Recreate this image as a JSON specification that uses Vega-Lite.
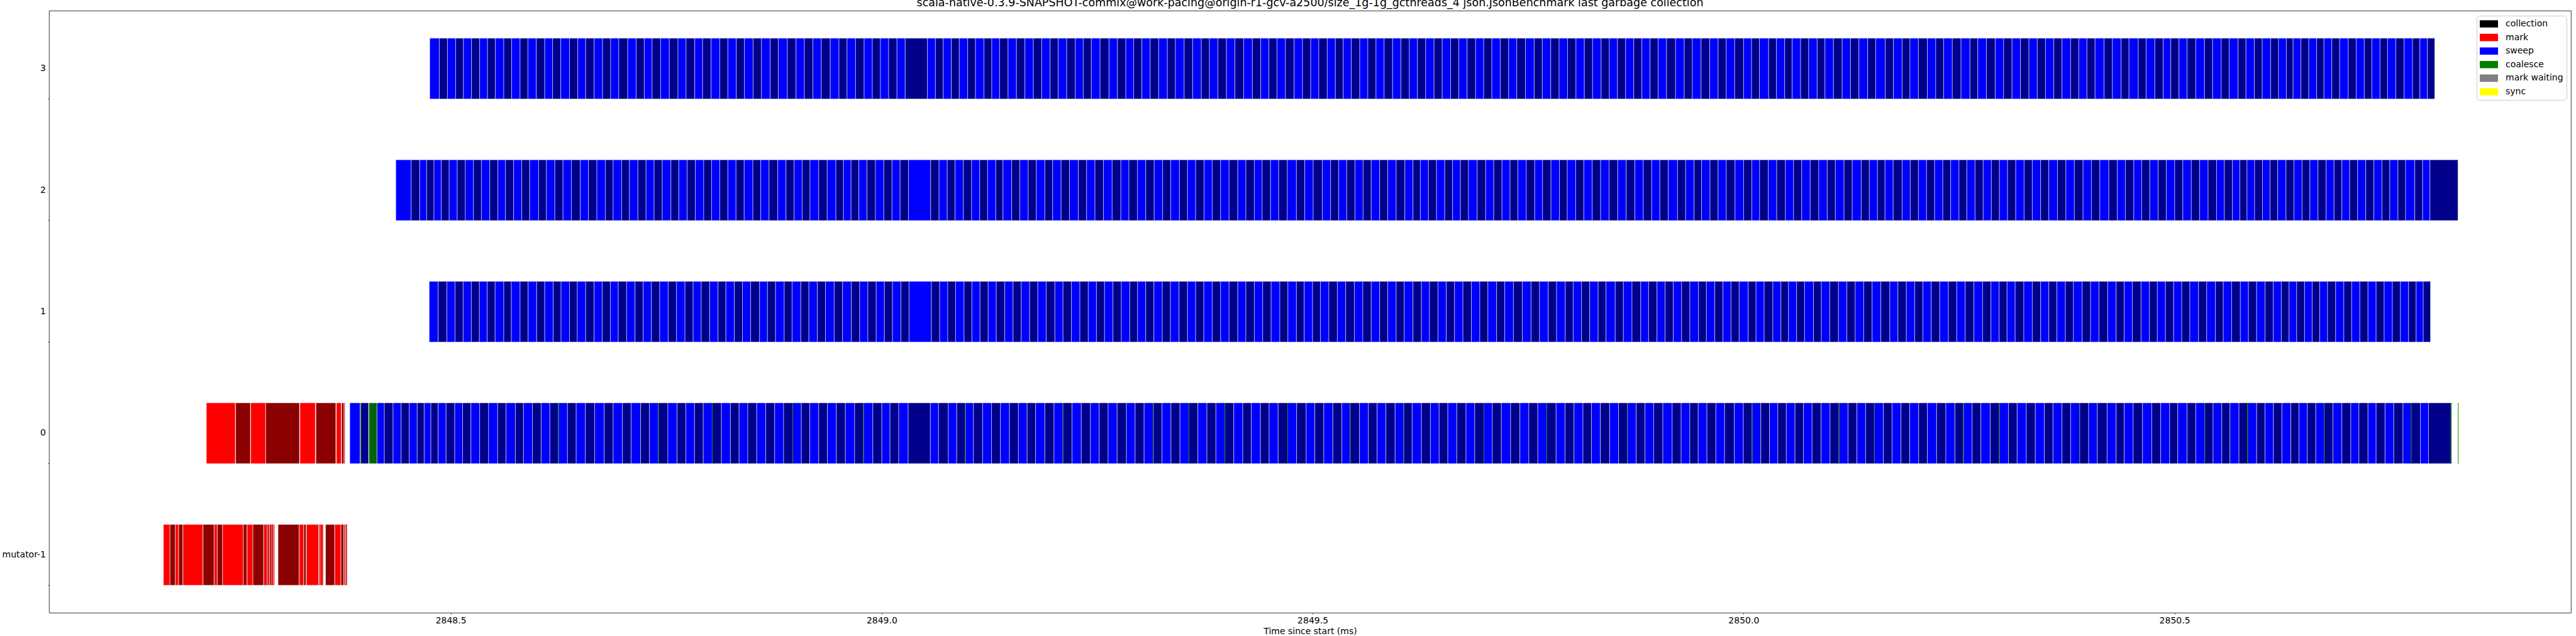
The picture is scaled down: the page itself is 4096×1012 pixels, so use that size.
{
"$schema":"https://vega.github.io/schema/vega-lite/v6.json",
"width":4010,"height":958,
"autosize":{"type":"none"},
"padding":{"left":78,"top":17,"right":8,"bottom":37},
"background":"white",
"config":{"view":{"stroke":"black","strokeWidth":0.8},"font":"DejaVu Sans"},
"title":{"text":"scala-native-0.3.9-SNAPSHOT-commix@work-pacing@origin-r1-gcv-a2500/size_1g-1g_gcthreads_4 json.JsonBenchmark last garbage collection","fontSize":17.5,"fontWeight":"normal","font":"DejaVu Sans","color":"black","anchor":"middle","frame":"group","baseline":"alphabetic","offset":-10},
"data":{"values":[
{"t":"mutator-1","s":2848.1667,"e":2848.1742,"k":"mark"},
{"t":"mutator-1","s":2848.1743,"e":2848.1805,"k":"mark2"},
{"t":"mutator-1","s":2848.1806,"e":2848.1842,"k":"mark"},
{"t":"mutator-1","s":2848.1844,"e":2848.1892,"k":"mark2"},
{"t":"mutator-1","s":2848.1894,"e":2848.2125,"k":"mark"},
{"t":"mutator-1","s":2848.2127,"e":2848.2254,"k":"mark2"},
{"t":"mutator-1","s":2848.2256,"e":2848.2290,"k":"mark"},
{"t":"mutator-1","s":2848.2292,"e":2848.2353,"k":"mark2"},
{"t":"mutator-1","s":2848.2354,"e":2848.2594,"k":"mark"},
{"t":"mutator-1","s":2848.2595,"e":2848.2636,"k":"mark2"},
{"t":"mutator-1","s":2848.2638,"e":2848.2704,"k":"mark"},
{"t":"mutator-1","s":2848.2705,"e":2848.2829,"k":"mark2"},
{"t":"mutator-1","s":2848.2831,"e":2848.2864,"k":"mark"},
{"t":"mutator-1","s":2848.2865,"e":2848.2875,"k":"mark2"},
{"t":"mutator-1","s":2848.2876,"e":2848.2898,"k":"mark"},
{"t":"mutator-1","s":2848.2900,"e":2848.2918,"k":"mark2"},
{"t":"mutator-1","s":2848.2920,"e":2848.2931,"k":"mark"},
{"t":"mutator-1","s":2848.2932,"e":2848.2940,"k":"mark2"},
{"t":"mutator-1","s":2848.2942,"e":2848.2956,"k":"mark"},
{"t":"mutator-1","s":2848.2997,"e":2848.3241,"k":"mark2"},
{"t":"mutator-1","s":2848.3243,"e":2848.3294,"k":"mark"},
{"t":"mutator-1","s":2848.3296,"e":2848.3321,"k":"mark2"},
{"t":"mutator-1","s":2848.3326,"e":2848.3467,"k":"mark"},
{"t":"mutator-1","s":2848.3473,"e":2848.3482,"k":"mark2"},
{"t":"mutator-1","s":2848.3484,"e":2848.3514,"k":"mark"},
{"t":"mutator-1","s":2848.3515,"e":2848.3520,"k":"mark2"},
{"t":"mutator-1","s":2848.3548,"e":2848.3653,"k":"mark2"},
{"t":"mutator-1","s":2848.3655,"e":2848.3725,"k":"mark"},
{"t":"mutator-1","s":2848.3727,"e":2848.3757,"k":"mark2"},
{"t":"mutator-1","s":2848.3758,"e":2848.3774,"k":"mark"},
{"t":"mutator-1","s":2848.3780,"e":2848.3789,"k":"mark2"},
{"t":"mutator-1","s":2848.3791,"e":2848.3797,"k":"mark"},
{"t":"0","s":2848.2165,"e":2848.2500,"k":"mark"},
{"t":"0","s":2848.2505,"e":2848.2675,"k":"mark2"},
{"t":"0","s":2848.2680,"e":2848.2852,"k":"mark"},
{"t":"0","s":2848.2854,"e":2848.3245,"k":"mark2"},
{"t":"0","s":2848.3251,"e":2848.3429,"k":"mark"},
{"t":"0","s":2848.3436,"e":2848.3667,"k":"mark2"},
{"t":"0","s":2848.3674,"e":2848.3730,"k":"mark"},
{"t":"0","s":2848.3735,"e":2848.3759,"k":"mark2"},
{"t":"0","s":2848.3760,"e":2848.3765,"k":"mark"},
{"t":"0","s":2848.3767,"e":2848.3772,"k":"mark2"},
{"t":"0","s":2848.3829,"e":2848.3946,"k":"sweep"},
{"t":"0","s":2848.3947,"e":2848.3956,"k":"coalesce2"},
{"t":"0","s":2848.3957,"e":2848.4047,"k":"sweep2"},
{"t":"0","s":2848.4052,"e":2848.4145,"k":"coalesce2"},
{"t":"0","s":2848.4145,"e":2848.4230,"k":"sweep"},
{"t":"0","s":2848.4230,"e":2848.4331,"k":"sweep2"},
{"t":"0","s":2848.4331,"e":2848.4425,"k":"sweep"},
{"t":"0","s":2848.4425,"e":2848.4520,"k":"sweep2"},
{"t":"0","s":2848.4520,"e":2848.4611,"k":"sweep"},
{"t":"0","s":2848.4611,"e":2848.4692,"k":"sweep2"},
{"t":"0","s":2848.4692,"e":2848.4770,"k":"sweep"},
{"t":"0","s":2848.4770,"e":2848.4855,"k":"sweep2"},
{"t":"0","s":2848.4855,"e":2848.4946,"k":"sweep"},
{"t":"0","s":2848.4946,"e":2848.5047,"k":"sweep2"},
{"t":"0","s":2848.5047,"e":2848.5138,"k":"sweep"},
{"t":"0","s":2848.5138,"e":2848.5235,"k":"sweep2"},
{"t":"0","s":2848.5235,"e":2848.5336,"k":"sweep"},
{"t":"0","s":2848.5336,"e":2848.5440,"k":"sweep2"},
{"t":"0","s":2848.5440,"e":2848.5545,"k":"sweep"},
{"t":"0","s":2848.5545,"e":2848.5642,"k":"sweep2"},
{"t":"0","s":2848.5642,"e":2848.5750,"k":"sweep"},
{"t":"0","s":2848.5750,"e":2848.5844,"k":"sweep2"},
{"t":"0","s":2848.5844,"e":2848.5948,"k":"sweep"},
{"t":"0","s":2848.5948,"e":2848.6049,"k":"sweep2"},
{"t":"0","s":2848.6049,"e":2848.6150,"k":"sweep"},
{"t":"0","s":2848.6150,"e":2848.6251,"k":"sweep2"},
{"t":"0","s":2848.6251,"e":2848.6355,"k":"sweep"},
{"t":"0","s":2848.6355,"e":2848.6456,"k":"sweep2"},
{"t":"0","s":2848.6456,"e":2848.6563,"k":"sweep"},
{"t":"0","s":2848.6563,"e":2848.6670,"k":"sweep2"},
{"t":"0","s":2848.6670,"e":2848.6781,"k":"sweep"},
{"t":"0","s":2848.6781,"e":2848.6885,"k":"sweep2"},
{"t":"0","s":2848.6885,"e":2848.6993,"k":"sweep"},
{"t":"0","s":2848.6993,"e":2848.7093,"k":"sweep2"},
{"t":"0","s":2848.7093,"e":2848.7204,"k":"sweep"},
{"t":"0","s":2848.7204,"e":2848.7305,"k":"sweep2"},
{"t":"0","s":2848.7305,"e":2848.7409,"k":"sweep"},
{"t":"0","s":2848.7409,"e":2848.7520,"k":"sweep2"},
{"t":"0","s":2848.7520,"e":2848.7627,"k":"sweep"},
{"t":"0","s":2848.7627,"e":2848.7728,"k":"sweep2"},
{"t":"0","s":2848.7728,"e":2848.7829,"k":"sweep"},
{"t":"0","s":2848.7829,"e":2848.7930,"k":"sweep2"},
{"t":"0","s":2848.7930,"e":2848.8034,"k":"sweep"},
{"t":"0","s":2848.8034,"e":2848.8141,"k":"sweep2"},
{"t":"0","s":2848.8141,"e":2848.8245,"k":"sweep"},
{"t":"0","s":2848.8245,"e":2848.8346,"k":"sweep2"},
{"t":"0","s":2848.8346,"e":2848.8447,"k":"sweep"},
{"t":"0","s":2848.8447,"e":2848.8551,"k":"sweep2"},
{"t":"0","s":2848.8551,"e":2848.8655,"k":"sweep"},
{"t":"0","s":2848.8655,"e":2848.8759,"k":"sweep2"},
{"t":"0","s":2848.8759,"e":2848.8863,"k":"sweep"},
{"t":"0","s":2848.8863,"e":2848.8968,"k":"sweep2"},
{"t":"0","s":2848.8968,"e":2848.9068,"k":"sweep"},
{"t":"0","s":2848.9068,"e":2848.9166,"k":"sweep2"},
{"t":"0","s":2848.9166,"e":2848.9270,"k":"sweep"},
{"t":"0","s":2848.9270,"e":2848.9371,"k":"sweep2"},
{"t":"0","s":2848.9371,"e":2848.9475,"k":"sweep"},
{"t":"0","s":2848.9475,"e":2848.9579,"k":"sweep2"},
{"t":"0","s":2848.9579,"e":2848.9687,"k":"sweep"},
{"t":"0","s":2848.9687,"e":2848.9791,"k":"sweep2"},
{"t":"0","s":2848.9791,"e":2848.9898,"k":"sweep"},
{"t":"0","s":2848.9898,"e":2849.0002,"k":"sweep2"},
{"t":"0","s":2849.0002,"e":2849.0097,"k":"sweep"},
{"t":"0","s":2849.0097,"e":2849.0198,"k":"sweep2"},
{"t":"0","s":2849.0198,"e":2849.0308,"k":"sweep"},
{"t":"0","s":2849.0308,"e":2849.0565,"k":"sweep2"},
{"t":"0","s":2849.0565,"e":2849.0660,"k":"sweep"},
{"t":"0","s":2849.0660,"e":2849.0774,"k":"sweep2"},
{"t":"0","s":2849.0774,"e":2849.0871,"k":"sweep"},
{"t":"0","s":2849.0871,"e":2849.0972,"k":"sweep2"},
{"t":"0","s":2849.0972,"e":2849.1066,"k":"sweep"},
{"t":"0","s":2849.1066,"e":2849.1171,"k":"sweep2"},
{"t":"0","s":2849.1171,"e":2849.1275,"k":"sweep"},
{"t":"0","s":2849.1275,"e":2849.1379,"k":"sweep2"},
{"t":"0","s":2849.1379,"e":2849.1483,"k":"sweep"},
{"t":"0","s":2849.1483,"e":2849.1587,"k":"sweep2"},
{"t":"0","s":2849.1587,"e":2849.1688,"k":"sweep"},
{"t":"0","s":2849.1688,"e":2849.1786,"k":"sweep2"},
{"t":"0","s":2849.1786,"e":2849.1893,"k":"sweep"},
{"t":"0","s":2849.1893,"e":2849.2000,"k":"sweep2"},
{"t":"0","s":2849.2000,"e":2849.2104,"k":"sweep"},
{"t":"0","s":2849.2104,"e":2849.2209,"k":"sweep2"},
{"t":"0","s":2849.2209,"e":2849.2316,"k":"sweep"},
{"t":"0","s":2849.2316,"e":2849.2423,"k":"sweep2"},
{"t":"0","s":2849.2423,"e":2849.2524,"k":"sweep"},
{"t":"0","s":2849.2524,"e":2849.2628,"k":"sweep2"},
{"t":"0","s":2849.2628,"e":2849.2732,"k":"sweep"},
{"t":"0","s":2849.2732,"e":2849.2840,"k":"sweep2"},
{"t":"0","s":2849.2840,"e":2849.2941,"k":"sweep"},
{"t":"0","s":2849.2941,"e":2849.3045,"k":"sweep2"},
{"t":"0","s":2849.3045,"e":2849.3152,"k":"sweep"},
{"t":"0","s":2849.3152,"e":2849.3253,"k":"sweep2"},
{"t":"0","s":2849.3253,"e":2849.3357,"k":"sweep"},
{"t":"0","s":2849.3357,"e":2849.3461,"k":"sweep2"},
{"t":"0","s":2849.3461,"e":2849.3565,"k":"sweep"},
{"t":"0","s":2849.3565,"e":2849.3669,"k":"sweep2"},
{"t":"0","s":2849.3669,"e":2849.3774,"k":"sweep"},
{"t":"0","s":2849.3774,"e":2849.3878,"k":"sweep2"},
{"t":"0","s":2849.3878,"e":2849.3982,"k":"sweep"},
{"t":"0","s":2849.3982,"e":2849.4086,"k":"sweep2"},
{"t":"0","s":2849.4086,"e":2849.4190,"k":"sweep"},
{"t":"0","s":2849.4190,"e":2849.4288,"k":"sweep2"},
{"t":"0","s":2849.4288,"e":2849.4395,"k":"sweep"},
{"t":"0","s":2849.4395,"e":2849.4496,"k":"sweep2"},
{"t":"0","s":2849.4496,"e":2849.4600,"k":"sweep"},
{"t":"0","s":2849.4600,"e":2849.4711,"k":"sweep2"},
{"t":"0","s":2849.4711,"e":2849.4815,"k":"sweep"},
{"t":"0","s":2849.4815,"e":2849.4926,"k":"sweep2"},
{"t":"0","s":2849.4926,"e":2849.5026,"k":"sweep"},
{"t":"0","s":2849.5026,"e":2849.5130,"k":"sweep2"},
{"t":"0","s":2849.5130,"e":2849.5235,"k":"sweep"},
{"t":"0","s":2849.5235,"e":2849.5339,"k":"sweep2"},
{"t":"0","s":2849.5339,"e":2849.5436,"k":"sweep"},
{"t":"0","s":2849.5436,"e":2849.5544,"k":"sweep2"},
{"t":"0","s":2849.5544,"e":2849.5648,"k":"sweep"},
{"t":"0","s":2849.5648,"e":2849.5749,"k":"sweep2"},
{"t":"0","s":2849.5749,"e":2849.5850,"k":"sweep"},
{"t":"0","s":2849.5850,"e":2849.5957,"k":"sweep2"},
{"t":"0","s":2849.5957,"e":2849.6058,"k":"sweep"},
{"t":"0","s":2849.6058,"e":2849.6155,"k":"sweep2"},
{"t":"0","s":2849.6155,"e":2849.6263,"k":"sweep"},
{"t":"0","s":2849.6263,"e":2849.6367,"k":"sweep2"},
{"t":"0","s":2849.6367,"e":2849.6468,"k":"sweep"},
{"t":"0","s":2849.6468,"e":2849.6569,"k":"sweep2"},
{"t":"0","s":2849.6569,"e":2849.6673,"k":"sweep"},
{"t":"0","s":2849.6673,"e":2849.6780,"k":"sweep2"},
{"t":"0","s":2849.6780,"e":2849.6881,"k":"sweep"},
{"t":"0","s":2849.6881,"e":2849.6988,"k":"sweep2"},
{"t":"0","s":2849.6988,"e":2849.7086,"k":"sweep"},
{"t":"0","s":2849.7086,"e":2849.7190,"k":"sweep2"},
{"t":"0","s":2849.7190,"e":2849.7298,"k":"sweep"},
{"t":"0","s":2849.7298,"e":2849.7405,"k":"sweep2"},
{"t":"0","s":2849.7405,"e":2849.7509,"k":"sweep"},
{"t":"0","s":2849.7509,"e":2849.7613,"k":"sweep2"},
{"t":"0","s":2849.7613,"e":2849.7717,"k":"sweep"},
{"t":"0","s":2849.7717,"e":2849.7825,"k":"sweep2"},
{"t":"0","s":2849.7825,"e":2849.7929,"k":"sweep"},
{"t":"0","s":2849.7929,"e":2849.8033,"k":"sweep2"},
{"t":"0","s":2849.8033,"e":2849.8137,"k":"sweep"},
{"t":"0","s":2849.8137,"e":2849.8235,"k":"sweep2"},
{"t":"0","s":2849.8235,"e":2849.8339,"k":"sweep"},
{"t":"0","s":2849.8339,"e":2849.8446,"k":"sweep2"},
{"t":"0","s":2849.8446,"e":2849.8550,"k":"sweep"},
{"t":"0","s":2849.8550,"e":2849.8654,"k":"sweep2"},
{"t":"0","s":2849.8654,"e":2849.8755,"k":"sweep"},
{"t":"0","s":2849.8755,"e":2849.8856,"k":"sweep2"},
{"t":"0","s":2849.8856,"e":2849.8957,"k":"sweep"},
{"t":"0","s":2849.8957,"e":2849.9064,"k":"sweep2"},
{"t":"0","s":2849.9064,"e":2849.9172,"k":"sweep"},
{"t":"0","s":2849.9172,"e":2849.9276,"k":"sweep2"},
{"t":"0","s":2849.9276,"e":2849.9377,"k":"sweep"},
{"t":"0","s":2849.9377,"e":2849.9474,"k":"sweep2"},
{"t":"0","s":2849.9474,"e":2849.9575,"k":"sweep"},
{"t":"0","s":2849.9575,"e":2849.9679,"k":"sweep2"},
{"t":"0","s":2849.9679,"e":2849.9780,"k":"sweep"},
{"t":"0","s":2849.9780,"e":2849.9894,"k":"sweep2"},
{"t":"0","s":2849.9894,"e":2849.9998,"k":"sweep"},
{"t":"0","s":2849.9998,"e":2850.0099,"k":"sweep2"},
{"t":"0","s":2850.0099,"e":2850.0200,"k":"sweep"},
{"t":"0","s":2850.0200,"e":2850.0301,"k":"sweep2"},
{"t":"0","s":2850.0301,"e":2850.0398,"k":"sweep"},
{"t":"0","s":2850.0398,"e":2850.0496,"k":"sweep2"},
{"t":"0","s":2850.0496,"e":2850.0597,"k":"sweep"},
{"t":"0","s":2850.0597,"e":2850.0695,"k":"sweep2"},
{"t":"0","s":2850.0695,"e":2850.0795,"k":"sweep"},
{"t":"0","s":2850.0795,"e":2850.0900,"k":"sweep2"},
{"t":"0","s":2850.0900,"e":2850.1004,"k":"sweep"},
{"t":"0","s":2850.1004,"e":2850.1108,"k":"sweep2"},
{"t":"0","s":2850.1108,"e":2850.1212,"k":"sweep"},
{"t":"0","s":2850.1212,"e":2850.1316,"k":"sweep2"},
{"t":"0","s":2850.1316,"e":2850.1417,"k":"sweep"},
{"t":"0","s":2850.1417,"e":2850.1518,"k":"sweep2"},
{"t":"0","s":2850.1518,"e":2850.1622,"k":"sweep"},
{"t":"0","s":2850.1622,"e":2850.1723,"k":"sweep2"},
{"t":"0","s":2850.1723,"e":2850.1827,"k":"sweep"},
{"t":"0","s":2850.1827,"e":2850.1928,"k":"sweep2"},
{"t":"0","s":2850.1928,"e":2850.2032,"k":"sweep"},
{"t":"0","s":2850.2032,"e":2850.2133,"k":"sweep2"},
{"t":"0","s":2850.2133,"e":2850.2240,"k":"sweep"},
{"t":"0","s":2850.2240,"e":2850.2347,"k":"sweep2"},
{"t":"0","s":2850.2347,"e":2850.2452,"k":"sweep"},
{"t":"0","s":2850.2452,"e":2850.2552,"k":"sweep2"},
{"t":"0","s":2850.2552,"e":2850.2653,"k":"sweep"},
{"t":"0","s":2850.2653,"e":2850.2754,"k":"sweep2"},
{"t":"0","s":2850.2754,"e":2850.2862,"k":"sweep"},
{"t":"0","s":2850.2862,"e":2850.2969,"k":"sweep2"},
{"t":"0","s":2850.2969,"e":2850.3073,"k":"sweep"},
{"t":"0","s":2850.3073,"e":2850.3174,"k":"sweep2"},
{"t":"0","s":2850.3174,"e":2850.3281,"k":"sweep"},
{"t":"0","s":2850.3281,"e":2850.3385,"k":"sweep2"},
{"t":"0","s":2850.3385,"e":2850.3490,"k":"sweep"},
{"t":"0","s":2850.3490,"e":2850.3590,"k":"sweep2"},
{"t":"0","s":2850.3590,"e":2850.3695,"k":"sweep"},
{"t":"0","s":2850.3695,"e":2850.3795,"k":"sweep2"},
{"t":"0","s":2850.3795,"e":2850.3900,"k":"sweep"},
{"t":"0","s":2850.3900,"e":2850.4004,"k":"sweep2"},
{"t":"0","s":2850.4004,"e":2850.4105,"k":"sweep"},
{"t":"0","s":2850.4105,"e":2850.4218,"k":"sweep2"},
{"t":"0","s":2850.4218,"e":2850.4323,"k":"sweep"},
{"t":"0","s":2850.4323,"e":2850.4417,"k":"sweep2"},
{"t":"0","s":2850.4417,"e":2850.4521,"k":"sweep"},
{"t":"0","s":2850.4521,"e":2850.4629,"k":"sweep2"},
{"t":"0","s":2850.4629,"e":2850.4736,"k":"sweep"},
{"t":"0","s":2850.4736,"e":2850.4840,"k":"sweep2"},
{"t":"0","s":2850.4840,"e":2850.4944,"k":"sweep"},
{"t":"0","s":2850.4944,"e":2850.5038,"k":"sweep2"},
{"t":"0","s":2850.5038,"e":2850.5146,"k":"sweep"},
{"t":"0","s":2850.5146,"e":2850.5247,"k":"sweep2"},
{"t":"0","s":2850.5247,"e":2850.5351,"k":"sweep"},
{"t":"0","s":2850.5351,"e":2850.5448,"k":"sweep2"},
{"t":"0","s":2850.5448,"e":2850.5549,"k":"sweep"},
{"t":"0","s":2850.5549,"e":2850.5644,"k":"sweep2"},
{"t":"0","s":2850.5644,"e":2850.5748,"k":"sweep"},
{"t":"0","s":2850.5748,"e":2850.5849,"k":"sweep2"},
{"t":"0","s":2850.5849,"e":2850.5953,"k":"sweep"},
{"t":"0","s":2850.5953,"e":2850.6050,"k":"sweep2"},
{"t":"0","s":2850.6050,"e":2850.6148,"k":"sweep"},
{"t":"0","s":2850.6148,"e":2850.6246,"k":"sweep2"},
{"t":"0","s":2850.6246,"e":2850.6350,"k":"sweep"},
{"t":"0","s":2850.6350,"e":2850.6444,"k":"sweep2"},
{"t":"0","s":2850.6444,"e":2850.6542,"k":"sweep"},
{"t":"0","s":2850.6542,"e":2850.6639,"k":"sweep2"},
{"t":"0","s":2850.6639,"e":2850.6737,"k":"sweep"},
{"t":"0","s":2850.6737,"e":2850.6838,"k":"sweep2"},
{"t":"0","s":2850.6838,"e":2850.6942,"k":"sweep"},
{"t":"0","s":2850.6942,"e":2850.7046,"k":"sweep2"},
{"t":"0","s":2850.7046,"e":2850.7140,"k":"sweep"},
{"t":"0","s":2850.7140,"e":2850.7245,"k":"sweep2"},
{"t":"0","s":2850.7245,"e":2850.7339,"k":"sweep"},
{"t":"0","s":2850.7339,"e":2850.7443,"k":"sweep2"},
{"t":"0","s":2850.7443,"e":2850.7544,"k":"sweep"},
{"t":"0","s":2850.7544,"e":2850.7651,"k":"sweep2"},
{"t":"0","s":2850.7651,"e":2850.7749,"k":"sweep"},
{"t":"0","s":2850.7749,"e":2850.7853,"k":"sweep2"},
{"t":"0","s":2850.7853,"e":2850.7947,"k":"sweep"},
{"t":"0","s":2850.7947,"e":2850.8208,"k":"sweep2"},
{"t":"1","s":2848.4751,"e":2848.4855,"k":"sweep"},
{"t":"1","s":2848.4855,"e":2848.4956,"k":"sweep2"},
{"t":"1","s":2848.4956,"e":2848.5050,"k":"sweep"},
{"t":"1","s":2848.5050,"e":2848.5144,"k":"sweep2"},
{"t":"1","s":2848.5144,"e":2848.5239,"k":"sweep"},
{"t":"1","s":2848.5239,"e":2848.5333,"k":"sweep2"},
{"t":"1","s":2848.5333,"e":2848.5424,"k":"sweep"},
{"t":"1","s":2848.5424,"e":2848.5515,"k":"sweep2"},
{"t":"1","s":2848.5515,"e":2848.5616,"k":"sweep"},
{"t":"1","s":2848.5616,"e":2848.5704,"k":"sweep2"},
{"t":"1","s":2848.5704,"e":2848.5805,"k":"sweep"},
{"t":"1","s":2848.5805,"e":2848.5899,"k":"sweep2"},
{"t":"1","s":2848.5899,"e":2848.5997,"k":"sweep"},
{"t":"1","s":2848.5997,"e":2848.6091,"k":"sweep2"},
{"t":"1","s":2848.6091,"e":2848.6189,"k":"sweep"},
{"t":"1","s":2848.6189,"e":2848.6280,"k":"sweep2"},
{"t":"1","s":2848.6280,"e":2848.6378,"k":"sweep"},
{"t":"1","s":2848.6378,"e":2848.6469,"k":"sweep2"},
{"t":"1","s":2848.6469,"e":2848.6566,"k":"sweep"},
{"t":"1","s":2848.6566,"e":2848.6664,"k":"sweep2"},
{"t":"1","s":2848.6664,"e":2848.6758,"k":"sweep"},
{"t":"1","s":2848.6758,"e":2848.6853,"k":"sweep2"},
{"t":"1","s":2848.6853,"e":2848.6944,"k":"sweep"},
{"t":"1","s":2848.6944,"e":2848.7041,"k":"sweep2"},
{"t":"1","s":2848.7041,"e":2848.7139,"k":"sweep"},
{"t":"1","s":2848.7139,"e":2848.7233,"k":"sweep2"},
{"t":"1","s":2848.7233,"e":2848.7328,"k":"sweep"},
{"t":"1","s":2848.7328,"e":2848.7425,"k":"sweep2"},
{"t":"1","s":2848.7425,"e":2848.7523,"k":"sweep"},
{"t":"1","s":2848.7523,"e":2848.7621,"k":"sweep2"},
{"t":"1","s":2848.7621,"e":2848.7718,"k":"sweep"},
{"t":"1","s":2848.7718,"e":2848.7813,"k":"sweep2"},
{"t":"1","s":2848.7813,"e":2848.7907,"k":"sweep"},
{"t":"1","s":2848.7907,"e":2848.8004,"k":"sweep2"},
{"t":"1","s":2848.8004,"e":2848.8102,"k":"sweep"},
{"t":"1","s":2848.8102,"e":2848.8193,"k":"sweep2"},
{"t":"1","s":2848.8193,"e":2848.8291,"k":"sweep"},
{"t":"1","s":2848.8291,"e":2848.8385,"k":"sweep2"},
{"t":"1","s":2848.8385,"e":2848.8480,"k":"sweep"},
{"t":"1","s":2848.8480,"e":2848.8584,"k":"sweep2"},
{"t":"1","s":2848.8584,"e":2848.8675,"k":"sweep"},
{"t":"1","s":2848.8675,"e":2848.8769,"k":"sweep2"},
{"t":"1","s":2848.8769,"e":2848.8870,"k":"sweep"},
{"t":"1","s":2848.8870,"e":2848.8961,"k":"sweep2"},
{"t":"1","s":2848.8961,"e":2848.9062,"k":"sweep"},
{"t":"1","s":2848.9062,"e":2848.9156,"k":"sweep2"},
{"t":"1","s":2848.9156,"e":2848.9254,"k":"sweep"},
{"t":"1","s":2848.9254,"e":2848.9348,"k":"sweep2"},
{"t":"1","s":2848.9348,"e":2848.9449,"k":"sweep"},
{"t":"1","s":2848.9449,"e":2848.9547,"k":"sweep2"},
{"t":"1","s":2848.9547,"e":2848.9648,"k":"sweep"},
{"t":"1","s":2848.9648,"e":2848.9745,"k":"sweep2"},
{"t":"1","s":2848.9745,"e":2848.9840,"k":"sweep"},
{"t":"1","s":2848.9840,"e":2848.9937,"k":"sweep2"},
{"t":"1","s":2848.9937,"e":2849.0032,"k":"sweep"},
{"t":"1","s":2849.0032,"e":2849.0126,"k":"sweep2"},
{"t":"1","s":2849.0126,"e":2849.0224,"k":"sweep"},
{"t":"1","s":2849.0224,"e":2849.0318,"k":"sweep2"},
{"t":"1","s":2849.0318,"e":2849.0578,"k":"sweep"},
{"t":"1","s":2849.0578,"e":2849.0673,"k":"sweep2"},
{"t":"1","s":2849.0673,"e":2849.0767,"k":"sweep"},
{"t":"1","s":2849.0767,"e":2849.0858,"k":"sweep2"},
{"t":"1","s":2849.0858,"e":2849.0956,"k":"sweep"},
{"t":"1","s":2849.0956,"e":2849.1047,"k":"sweep2"},
{"t":"1","s":2849.1047,"e":2849.1141,"k":"sweep"},
{"t":"1","s":2849.1141,"e":2849.1236,"k":"sweep2"},
{"t":"1","s":2849.1236,"e":2849.1330,"k":"sweep"},
{"t":"1","s":2849.1330,"e":2849.1428,"k":"sweep2"},
{"t":"1","s":2849.1428,"e":2849.1525,"k":"sweep"},
{"t":"1","s":2849.1525,"e":2849.1620,"k":"sweep2"},
{"t":"1","s":2849.1620,"e":2849.1717,"k":"sweep"},
{"t":"1","s":2849.1717,"e":2849.1812,"k":"sweep2"},
{"t":"1","s":2849.1812,"e":2849.1909,"k":"sweep"},
{"t":"1","s":2849.1909,"e":2849.2010,"k":"sweep2"},
{"t":"1","s":2849.2010,"e":2849.2104,"k":"sweep"},
{"t":"1","s":2849.2104,"e":2849.2202,"k":"sweep2"},
{"t":"1","s":2849.2202,"e":2849.2300,"k":"sweep"},
{"t":"1","s":2849.2300,"e":2849.2397,"k":"sweep2"},
{"t":"1","s":2849.2397,"e":2849.2492,"k":"sweep"},
{"t":"1","s":2849.2492,"e":2849.2586,"k":"sweep2"},
{"t":"1","s":2849.2586,"e":2849.2684,"k":"sweep"},
{"t":"1","s":2849.2684,"e":2849.2781,"k":"sweep2"},
{"t":"1","s":2849.2781,"e":2849.2879,"k":"sweep"},
{"t":"1","s":2849.2879,"e":2849.2970,"k":"sweep2"},
{"t":"1","s":2849.2970,"e":2849.3064,"k":"sweep"},
{"t":"1","s":2849.3064,"e":2849.3159,"k":"sweep2"},
{"t":"1","s":2849.3159,"e":2849.3256,"k":"sweep"},
{"t":"1","s":2849.3256,"e":2849.3351,"k":"sweep2"},
{"t":"1","s":2849.3351,"e":2849.3451,"k":"sweep"},
{"t":"1","s":2849.3451,"e":2849.3549,"k":"sweep2"},
{"t":"1","s":2849.3549,"e":2849.3643,"k":"sweep"},
{"t":"1","s":2849.3643,"e":2849.3738,"k":"sweep2"},
{"t":"1","s":2849.3738,"e":2849.3835,"k":"sweep"},
{"t":"1","s":2849.3835,"e":2849.3933,"k":"sweep2"},
{"t":"1","s":2849.3933,"e":2849.4031,"k":"sweep"},
{"t":"1","s":2849.4031,"e":2849.4132,"k":"sweep2"},
{"t":"1","s":2849.4132,"e":2849.4226,"k":"sweep"},
{"t":"1","s":2849.4226,"e":2849.4324,"k":"sweep2"},
{"t":"1","s":2849.4324,"e":2849.4421,"k":"sweep"},
{"t":"1","s":2849.4421,"e":2849.4519,"k":"sweep2"},
{"t":"1","s":2849.4519,"e":2849.4620,"k":"sweep"},
{"t":"1","s":2849.4620,"e":2849.4714,"k":"sweep2"},
{"t":"1","s":2849.4714,"e":2849.4812,"k":"sweep"},
{"t":"1","s":2849.4812,"e":2849.4903,"k":"sweep2"},
{"t":"1","s":2849.4903,"e":2849.5000,"k":"sweep"},
{"t":"1","s":2849.5000,"e":2849.5091,"k":"sweep2"},
{"t":"1","s":2849.5091,"e":2849.5189,"k":"sweep"},
{"t":"1","s":2849.5189,"e":2849.5287,"k":"sweep2"},
{"t":"1","s":2849.5287,"e":2849.5384,"k":"sweep"},
{"t":"1","s":2849.5384,"e":2849.5485,"k":"sweep2"},
{"t":"1","s":2849.5485,"e":2849.5583,"k":"sweep"},
{"t":"1","s":2849.5583,"e":2849.5680,"k":"sweep2"},
{"t":"1","s":2849.5680,"e":2849.5778,"k":"sweep"},
{"t":"1","s":2849.5778,"e":2849.5872,"k":"sweep2"},
{"t":"1","s":2849.5872,"e":2849.5970,"k":"sweep"},
{"t":"1","s":2849.5970,"e":2849.6064,"k":"sweep2"},
{"t":"1","s":2849.6064,"e":2849.6165,"k":"sweep"},
{"t":"1","s":2849.6165,"e":2849.6263,"k":"sweep2"},
{"t":"1","s":2849.6263,"e":2849.6357,"k":"sweep"},
{"t":"1","s":2849.6357,"e":2849.6455,"k":"sweep2"},
{"t":"1","s":2849.6455,"e":2849.6552,"k":"sweep"},
{"t":"1","s":2849.6552,"e":2849.6647,"k":"sweep2"},
{"t":"1","s":2849.6647,"e":2849.6744,"k":"sweep"},
{"t":"1","s":2849.6744,"e":2849.6842,"k":"sweep2"},
{"t":"1","s":2849.6842,"e":2849.6940,"k":"sweep"},
{"t":"1","s":2849.6940,"e":2849.7034,"k":"sweep2"},
{"t":"1","s":2849.7034,"e":2849.7135,"k":"sweep"},
{"t":"1","s":2849.7135,"e":2849.7229,"k":"sweep2"},
{"t":"1","s":2849.7229,"e":2849.7330,"k":"sweep"},
{"t":"1","s":2849.7330,"e":2849.7434,"k":"sweep2"},
{"t":"1","s":2849.7434,"e":2849.7535,"k":"sweep"},
{"t":"1","s":2849.7535,"e":2849.7633,"k":"sweep2"},
{"t":"1","s":2849.7633,"e":2849.7734,"k":"sweep"},
{"t":"1","s":2849.7734,"e":2849.7831,"k":"sweep2"},
{"t":"1","s":2849.7831,"e":2849.7932,"k":"sweep"},
{"t":"1","s":2849.7932,"e":2849.8023,"k":"sweep2"},
{"t":"1","s":2849.8023,"e":2849.8121,"k":"sweep"},
{"t":"1","s":2849.8121,"e":2849.8215,"k":"sweep2"},
{"t":"1","s":2849.8215,"e":2849.8313,"k":"sweep"},
{"t":"1","s":2849.8313,"e":2849.8404,"k":"sweep2"},
{"t":"1","s":2849.8404,"e":2849.8511,"k":"sweep"},
{"t":"1","s":2849.8511,"e":2849.8606,"k":"sweep2"},
{"t":"1","s":2849.8606,"e":2849.8706,"k":"sweep"},
{"t":"1","s":2849.8706,"e":2849.8807,"k":"sweep2"},
{"t":"1","s":2849.8807,"e":2849.8898,"k":"sweep"},
{"t":"1","s":2849.8898,"e":2849.8996,"k":"sweep2"},
{"t":"1","s":2849.8996,"e":2849.9090,"k":"sweep"},
{"t":"1","s":2849.9090,"e":2849.9185,"k":"sweep2"},
{"t":"1","s":2849.9185,"e":2849.9282,"k":"sweep"},
{"t":"1","s":2849.9282,"e":2849.9377,"k":"sweep2"},
{"t":"1","s":2849.9377,"e":2849.9478,"k":"sweep"},
{"t":"1","s":2849.9478,"e":2849.9569,"k":"sweep2"},
{"t":"1","s":2849.9569,"e":2849.9666,"k":"sweep"},
{"t":"1","s":2849.9666,"e":2849.9761,"k":"sweep2"},
{"t":"1","s":2849.9761,"e":2849.9855,"k":"sweep"},
{"t":"1","s":2849.9855,"e":2849.9949,"k":"sweep2"},
{"t":"1","s":2849.9949,"e":2850.0054,"k":"sweep"},
{"t":"1","s":2850.0054,"e":2850.0145,"k":"sweep2"},
{"t":"1","s":2850.0145,"e":2850.0239,"k":"sweep"},
{"t":"1","s":2850.0239,"e":2850.0340,"k":"sweep2"},
{"t":"1","s":2850.0340,"e":2850.0434,"k":"sweep"},
{"t":"1","s":2850.0434,"e":2850.0522,"k":"sweep2"},
{"t":"1","s":2850.0522,"e":2850.0616,"k":"sweep"},
{"t":"1","s":2850.0616,"e":2850.0708,"k":"sweep2"},
{"t":"1","s":2850.0708,"e":2850.0812,"k":"sweep"},
{"t":"1","s":2850.0812,"e":2850.0903,"k":"sweep2"},
{"t":"1","s":2850.0903,"e":2850.1000,"k":"sweep"},
{"t":"1","s":2850.1000,"e":2850.1101,"k":"sweep2"},
{"t":"1","s":2850.1101,"e":2850.1199,"k":"sweep"},
{"t":"1","s":2850.1199,"e":2850.1296,"k":"sweep2"},
{"t":"1","s":2850.1296,"e":2850.1394,"k":"sweep"},
{"t":"1","s":2850.1394,"e":2850.1492,"k":"sweep2"},
{"t":"1","s":2850.1492,"e":2850.1593,"k":"sweep"},
{"t":"1","s":2850.1593,"e":2850.1697,"k":"sweep2"},
{"t":"1","s":2850.1697,"e":2850.1791,"k":"sweep"},
{"t":"1","s":2850.1791,"e":2850.1889,"k":"sweep2"},
{"t":"1","s":2850.1889,"e":2850.1986,"k":"sweep"},
{"t":"1","s":2850.1986,"e":2850.2081,"k":"sweep2"},
{"t":"1","s":2850.2081,"e":2850.2178,"k":"sweep"},
{"t":"1","s":2850.2178,"e":2850.2276,"k":"sweep2"},
{"t":"1","s":2850.2276,"e":2850.2377,"k":"sweep"},
{"t":"1","s":2850.2377,"e":2850.2474,"k":"sweep2"},
{"t":"1","s":2850.2474,"e":2850.2572,"k":"sweep"},
{"t":"1","s":2850.2572,"e":2850.2673,"k":"sweep2"},
{"t":"1","s":2850.2673,"e":2850.2774,"k":"sweep"},
{"t":"1","s":2850.2774,"e":2850.2871,"k":"sweep2"},
{"t":"1","s":2850.2871,"e":2850.2966,"k":"sweep"},
{"t":"1","s":2850.2966,"e":2850.3057,"k":"sweep2"},
{"t":"1","s":2850.3057,"e":2850.3151,"k":"sweep"},
{"t":"1","s":2850.3151,"e":2850.3252,"k":"sweep2"},
{"t":"1","s":2850.3252,"e":2850.3350,"k":"sweep"},
{"t":"1","s":2850.3350,"e":2850.3447,"k":"sweep2"},
{"t":"1","s":2850.3447,"e":2850.3542,"k":"sweep"},
{"t":"1","s":2850.3542,"e":2850.3636,"k":"sweep2"},
{"t":"1","s":2850.3636,"e":2850.3734,"k":"sweep"},
{"t":"1","s":2850.3734,"e":2850.3828,"k":"sweep2"},
{"t":"1","s":2850.3828,"e":2850.3929,"k":"sweep"},
{"t":"1","s":2850.3929,"e":2850.4026,"k":"sweep2"},
{"t":"1","s":2850.4026,"e":2850.4124,"k":"sweep"},
{"t":"1","s":2850.4124,"e":2850.4225,"k":"sweep2"},
{"t":"1","s":2850.4225,"e":2850.4323,"k":"sweep"},
{"t":"1","s":2850.4323,"e":2850.4417,"k":"sweep2"},
{"t":"1","s":2850.4417,"e":2850.4511,"k":"sweep"},
{"t":"1","s":2850.4511,"e":2850.4612,"k":"sweep2"},
{"t":"1","s":2850.4612,"e":2850.4710,"k":"sweep"},
{"t":"1","s":2850.4710,"e":2850.4801,"k":"sweep2"},
{"t":"1","s":2850.4801,"e":2850.4895,"k":"sweep"},
{"t":"1","s":2850.4895,"e":2850.4990,"k":"sweep2"},
{"t":"1","s":2850.4990,"e":2850.5084,"k":"sweep"},
{"t":"1","s":2850.5084,"e":2850.5178,"k":"sweep2"},
{"t":"1","s":2850.5178,"e":2850.5279,"k":"sweep"},
{"t":"1","s":2850.5279,"e":2850.5374,"k":"sweep2"},
{"t":"1","s":2850.5374,"e":2850.5475,"k":"sweep"},
{"t":"1","s":2850.5475,"e":2850.5566,"k":"sweep2"},
{"t":"1","s":2850.5566,"e":2850.5663,"k":"sweep"},
{"t":"1","s":2850.5663,"e":2850.5764,"k":"sweep2"},
{"t":"1","s":2850.5764,"e":2850.5858,"k":"sweep"},
{"t":"1","s":2850.5858,"e":2850.5953,"k":"sweep2"},
{"t":"1","s":2850.5953,"e":2850.6050,"k":"sweep"},
{"t":"1","s":2850.6050,"e":2850.6145,"k":"sweep2"},
{"t":"1","s":2850.6145,"e":2850.6239,"k":"sweep"},
{"t":"1","s":2850.6239,"e":2850.6330,"k":"sweep2"},
{"t":"1","s":2850.6330,"e":2850.6418,"k":"sweep"},
{"t":"1","s":2850.6418,"e":2850.6509,"k":"sweep2"},
{"t":"1","s":2850.6509,"e":2850.6597,"k":"sweep"},
{"t":"1","s":2850.6597,"e":2850.6685,"k":"sweep2"},
{"t":"1","s":2850.6685,"e":2850.6776,"k":"sweep"},
{"t":"1","s":2850.6776,"e":2850.6870,"k":"sweep2"},
{"t":"1","s":2850.6870,"e":2850.6965,"k":"sweep"},
{"t":"1","s":2850.6965,"e":2850.7056,"k":"sweep2"},
{"t":"1","s":2850.7056,"e":2850.7150,"k":"sweep"},
{"t":"1","s":2850.7150,"e":2850.7245,"k":"sweep2"},
{"t":"1","s":2850.7245,"e":2850.7339,"k":"sweep"},
{"t":"1","s":2850.7339,"e":2850.7433,"k":"sweep2"},
{"t":"1","s":2850.7433,"e":2850.7528,"k":"sweep"},
{"t":"1","s":2850.7528,"e":2850.7622,"k":"sweep2"},
{"t":"1","s":2850.7622,"e":2850.7716,"k":"sweep"},
{"t":"1","s":2850.7716,"e":2850.7804,"k":"sweep2"},
{"t":"1","s":2850.7804,"e":2850.7886,"k":"sweep"},
{"t":"1","s":2850.7886,"e":2850.7970,"k":"sweep2"},
{"t":"2","s":2848.4363,"e":2848.4542,"k":"sweep"},
{"t":"2","s":2848.4542,"e":2848.4640,"k":"sweep2"},
{"t":"2","s":2848.4640,"e":2848.4721,"k":"sweep"},
{"t":"2","s":2848.4721,"e":2848.4806,"k":"sweep2"},
{"t":"2","s":2848.4806,"e":2848.4891,"k":"sweep"},
{"t":"2","s":2848.4891,"e":2848.4982,"k":"sweep2"},
{"t":"2","s":2848.4982,"e":2848.5076,"k":"sweep"},
{"t":"2","s":2848.5076,"e":2848.5170,"k":"sweep2"},
{"t":"2","s":2848.5170,"e":2848.5265,"k":"sweep"},
{"t":"2","s":2848.5265,"e":2848.5356,"k":"sweep2"},
{"t":"2","s":2848.5356,"e":2848.5454,"k":"sweep"},
{"t":"2","s":2848.5454,"e":2848.5548,"k":"sweep2"},
{"t":"2","s":2848.5548,"e":2848.5636,"k":"sweep"},
{"t":"2","s":2848.5636,"e":2848.5730,"k":"sweep2"},
{"t":"2","s":2848.5730,"e":2848.5824,"k":"sweep"},
{"t":"2","s":2848.5824,"e":2848.5916,"k":"sweep2"},
{"t":"2","s":2848.5916,"e":2848.6020,"k":"sweep"},
{"t":"2","s":2848.6020,"e":2848.6111,"k":"sweep2"},
{"t":"2","s":2848.6111,"e":2848.6208,"k":"sweep"},
{"t":"2","s":2848.6208,"e":2848.6303,"k":"sweep2"},
{"t":"2","s":2848.6303,"e":2848.6400,"k":"sweep"},
{"t":"2","s":2848.6400,"e":2848.6504,"k":"sweep2"},
{"t":"2","s":2848.6504,"e":2848.6599,"k":"sweep"},
{"t":"2","s":2848.6599,"e":2848.6696,"k":"sweep2"},
{"t":"2","s":2848.6696,"e":2848.6794,"k":"sweep"},
{"t":"2","s":2848.6794,"e":2848.6885,"k":"sweep2"},
{"t":"2","s":2848.6885,"e":2848.6983,"k":"sweep"},
{"t":"2","s":2848.6983,"e":2848.7074,"k":"sweep2"},
{"t":"2","s":2848.7074,"e":2848.7172,"k":"sweep"},
{"t":"2","s":2848.7172,"e":2848.7266,"k":"sweep2"},
{"t":"2","s":2848.7266,"e":2848.7360,"k":"sweep"},
{"t":"2","s":2848.7360,"e":2848.7455,"k":"sweep2"},
{"t":"2","s":2848.7455,"e":2848.7555,"k":"sweep"},
{"t":"2","s":2848.7555,"e":2848.7647,"k":"sweep2"},
{"t":"2","s":2848.7647,"e":2848.7744,"k":"sweep"},
{"t":"2","s":2848.7744,"e":2848.7839,"k":"sweep2"},
{"t":"2","s":2848.7839,"e":2848.7936,"k":"sweep"},
{"t":"2","s":2848.7936,"e":2848.8027,"k":"sweep2"},
{"t":"2","s":2848.8027,"e":2848.8122,"k":"sweep"},
{"t":"2","s":2848.8122,"e":2848.8216,"k":"sweep2"},
{"t":"2","s":2848.8216,"e":2848.8310,"k":"sweep"},
{"t":"2","s":2848.8310,"e":2848.8405,"k":"sweep2"},
{"t":"2","s":2848.8405,"e":2848.8506,"k":"sweep"},
{"t":"2","s":2848.8506,"e":2848.8597,"k":"sweep2"},
{"t":"2","s":2848.8597,"e":2848.8694,"k":"sweep"},
{"t":"2","s":2848.8694,"e":2848.8795,"k":"sweep2"},
{"t":"2","s":2848.8795,"e":2848.8890,"k":"sweep"},
{"t":"2","s":2848.8890,"e":2848.8984,"k":"sweep2"},
{"t":"2","s":2848.8984,"e":2848.9078,"k":"sweep"},
{"t":"2","s":2848.9078,"e":2848.9169,"k":"sweep2"},
{"t":"2","s":2848.9169,"e":2848.9270,"k":"sweep"},
{"t":"2","s":2848.9270,"e":2848.9368,"k":"sweep2"},
{"t":"2","s":2848.9368,"e":2848.9469,"k":"sweep"},
{"t":"2","s":2848.9469,"e":2848.9557,"k":"sweep2"},
{"t":"2","s":2848.9557,"e":2848.9645,"k":"sweep"},
{"t":"2","s":2848.9645,"e":2848.9736,"k":"sweep2"},
{"t":"2","s":2848.9736,"e":2848.9830,"k":"sweep"},
{"t":"2","s":2848.9830,"e":2848.9928,"k":"sweep2"},
{"t":"2","s":2848.9928,"e":2849.0025,"k":"sweep"},
{"t":"2","s":2849.0025,"e":2849.0120,"k":"sweep2"},
{"t":"2","s":2849.0120,"e":2849.0214,"k":"sweep"},
{"t":"2","s":2849.0214,"e":2849.0312,"k":"sweep2"},
{"t":"2","s":2849.0312,"e":2849.0569,"k":"sweep"},
{"t":"2","s":2849.0569,"e":2849.0666,"k":"sweep2"},
{"t":"2","s":2849.0666,"e":2849.0761,"k":"sweep"},
{"t":"2","s":2849.0761,"e":2849.0852,"k":"sweep2"},
{"t":"2","s":2849.0852,"e":2849.0949,"k":"sweep"},
{"t":"2","s":2849.0949,"e":2849.1044,"k":"sweep2"},
{"t":"2","s":2849.1044,"e":2849.1138,"k":"sweep"},
{"t":"2","s":2849.1138,"e":2849.1229,"k":"sweep2"},
{"t":"2","s":2849.1229,"e":2849.1324,"k":"sweep"},
{"t":"2","s":2849.1324,"e":2849.1408,"k":"sweep2"},
{"t":"2","s":2849.1408,"e":2849.1509,"k":"sweep"},
{"t":"2","s":2849.1509,"e":2849.1603,"k":"sweep2"},
{"t":"2","s":2849.1603,"e":2849.1701,"k":"sweep"},
{"t":"2","s":2849.1701,"e":2849.1795,"k":"sweep2"},
{"t":"2","s":2849.1795,"e":2849.1893,"k":"sweep"},
{"t":"2","s":2849.1893,"e":2849.1984,"k":"sweep2"},
{"t":"2","s":2849.1984,"e":2849.2082,"k":"sweep"},
{"t":"2","s":2849.2082,"e":2849.2179,"k":"sweep2"},
{"t":"2","s":2849.2179,"e":2849.2283,"k":"sweep"},
{"t":"2","s":2849.2283,"e":2849.2378,"k":"sweep2"},
{"t":"2","s":2849.2378,"e":2849.2475,"k":"sweep"},
{"t":"2","s":2849.2475,"e":2849.2573,"k":"sweep2"},
{"t":"2","s":2849.2573,"e":2849.2674,"k":"sweep"},
{"t":"2","s":2849.2674,"e":2849.2775,"k":"sweep2"},
{"t":"2","s":2849.2775,"e":2849.2869,"k":"sweep"},
{"t":"2","s":2849.2869,"e":2849.2967,"k":"sweep2"},
{"t":"2","s":2849.2967,"e":2849.3064,"k":"sweep"},
{"t":"2","s":2849.3064,"e":2849.3162,"k":"sweep2"},
{"t":"2","s":2849.3162,"e":2849.3260,"k":"sweep"},
{"t":"2","s":2849.3260,"e":2849.3354,"k":"sweep2"},
{"t":"2","s":2849.3354,"e":2849.3455,"k":"sweep"},
{"t":"2","s":2849.3455,"e":2849.3549,"k":"sweep2"},
{"t":"2","s":2849.3549,"e":2849.3643,"k":"sweep"},
{"t":"2","s":2849.3643,"e":2849.3741,"k":"sweep2"},
{"t":"2","s":2849.3741,"e":2849.3835,"k":"sweep"},
{"t":"2","s":2849.3835,"e":2849.3933,"k":"sweep2"},
{"t":"2","s":2849.3933,"e":2849.4031,"k":"sweep"},
{"t":"2","s":2849.4031,"e":2849.4132,"k":"sweep2"},
{"t":"2","s":2849.4132,"e":2849.4226,"k":"sweep"},
{"t":"2","s":2849.4226,"e":2849.4324,"k":"sweep2"},
{"t":"2","s":2849.4324,"e":2849.4415,"k":"sweep"},
{"t":"2","s":2849.4415,"e":2849.4512,"k":"sweep2"},
{"t":"2","s":2849.4512,"e":2849.4607,"k":"sweep"},
{"t":"2","s":2849.4607,"e":2849.4707,"k":"sweep2"},
{"t":"2","s":2849.4707,"e":2849.4812,"k":"sweep"},
{"t":"2","s":2849.4812,"e":2849.4909,"k":"sweep2"},
{"t":"2","s":2849.4909,"e":2849.5007,"k":"sweep"},
{"t":"2","s":2849.5007,"e":2849.5114,"k":"sweep2"},
{"t":"2","s":2849.5114,"e":2849.5209,"k":"sweep"},
{"t":"2","s":2849.5209,"e":2849.5303,"k":"sweep2"},
{"t":"2","s":2849.5303,"e":2849.5397,"k":"sweep"},
{"t":"2","s":2849.5397,"e":2849.5492,"k":"sweep2"},
{"t":"2","s":2849.5492,"e":2849.5586,"k":"sweep"},
{"t":"2","s":2849.5586,"e":2849.5680,"k":"sweep2"},
{"t":"2","s":2849.5680,"e":2849.5778,"k":"sweep"},
{"t":"2","s":2849.5778,"e":2849.5872,"k":"sweep2"},
{"t":"2","s":2849.5872,"e":2849.5970,"k":"sweep"},
{"t":"2","s":2849.5970,"e":2849.6071,"k":"sweep2"},
{"t":"2","s":2849.6071,"e":2849.6165,"k":"sweep"},
{"t":"2","s":2849.6165,"e":2849.6250,"k":"sweep2"},
{"t":"2","s":2849.6250,"e":2849.6344,"k":"sweep"},
{"t":"2","s":2849.6344,"e":2849.6438,"k":"sweep2"},
{"t":"2","s":2849.6438,"e":2849.6533,"k":"sweep"},
{"t":"2","s":2849.6533,"e":2849.6624,"k":"sweep2"},
{"t":"2","s":2849.6624,"e":2849.6715,"k":"sweep"},
{"t":"2","s":2849.6715,"e":2849.6809,"k":"sweep2"},
{"t":"2","s":2849.6809,"e":2849.6910,"k":"sweep"},
{"t":"2","s":2849.6910,"e":2849.7008,"k":"sweep2"},
{"t":"2","s":2849.7008,"e":2849.7102,"k":"sweep"},
{"t":"2","s":2849.7102,"e":2849.7197,"k":"sweep2"},
{"t":"2","s":2849.7197,"e":2849.7291,"k":"sweep"},
{"t":"2","s":2849.7291,"e":2849.7382,"k":"sweep2"},
{"t":"2","s":2849.7382,"e":2849.7480,"k":"sweep"},
{"t":"2","s":2849.7480,"e":2849.7577,"k":"sweep2"},
{"t":"2","s":2849.7577,"e":2849.7668,"k":"sweep"},
{"t":"2","s":2849.7668,"e":2849.7766,"k":"sweep2"},
{"t":"2","s":2849.7766,"e":2849.7864,"k":"sweep"},
{"t":"2","s":2849.7864,"e":2849.7955,"k":"sweep2"},
{"t":"2","s":2849.7955,"e":2849.8052,"k":"sweep"},
{"t":"2","s":2849.8052,"e":2849.8147,"k":"sweep2"},
{"t":"2","s":2849.8147,"e":2849.8244,"k":"sweep"},
{"t":"2","s":2849.8244,"e":2849.8342,"k":"sweep2"},
{"t":"2","s":2849.8342,"e":2849.8440,"k":"sweep"},
{"t":"2","s":2849.8440,"e":2849.8540,"k":"sweep2"},
{"t":"2","s":2849.8540,"e":2849.8638,"k":"sweep"},
{"t":"2","s":2849.8638,"e":2849.8739,"k":"sweep2"},
{"t":"2","s":2849.8739,"e":2849.8837,"k":"sweep"},
{"t":"2","s":2849.8837,"e":2849.8934,"k":"sweep2"},
{"t":"2","s":2849.8934,"e":2849.9029,"k":"sweep"},
{"t":"2","s":2849.9029,"e":2849.9126,"k":"sweep2"},
{"t":"2","s":2849.9126,"e":2849.9234,"k":"sweep"},
{"t":"2","s":2849.9234,"e":2849.9328,"k":"sweep2"},
{"t":"2","s":2849.9328,"e":2849.9426,"k":"sweep"},
{"t":"2","s":2849.9426,"e":2849.9513,"k":"sweep2"},
{"t":"2","s":2849.9513,"e":2849.9611,"k":"sweep"},
{"t":"2","s":2849.9611,"e":2849.9705,"k":"sweep2"},
{"t":"2","s":2849.9705,"e":2849.9800,"k":"sweep"},
{"t":"2","s":2849.9800,"e":2849.9901,"k":"sweep2"},
{"t":"2","s":2849.9901,"e":2850.0001,"k":"sweep"},
{"t":"2","s":2850.0001,"e":2850.0096,"k":"sweep2"},
{"t":"2","s":2850.0096,"e":2850.0187,"k":"sweep"},
{"t":"2","s":2850.0187,"e":2850.0288,"k":"sweep2"},
{"t":"2","s":2850.0288,"e":2850.0385,"k":"sweep"},
{"t":"2","s":2850.0385,"e":2850.0486,"k":"sweep2"},
{"t":"2","s":2850.0486,"e":2850.0581,"k":"sweep"},
{"t":"2","s":2850.0581,"e":2850.0675,"k":"sweep2"},
{"t":"2","s":2850.0675,"e":2850.0773,"k":"sweep"},
{"t":"2","s":2850.0773,"e":2850.0873,"k":"sweep2"},
{"t":"2","s":2850.0873,"e":2850.0971,"k":"sweep"},
{"t":"2","s":2850.0971,"e":2850.1065,"k":"sweep2"},
{"t":"2","s":2850.1065,"e":2850.1166,"k":"sweep"},
{"t":"2","s":2850.1166,"e":2850.1261,"k":"sweep2"},
{"t":"2","s":2850.1261,"e":2850.1365,"k":"sweep"},
{"t":"2","s":2850.1365,"e":2850.1459,"k":"sweep2"},
{"t":"2","s":2850.1459,"e":2850.1554,"k":"sweep"},
{"t":"2","s":2850.1554,"e":2850.1641,"k":"sweep2"},
{"t":"2","s":2850.1641,"e":2850.1736,"k":"sweep"},
{"t":"2","s":2850.1736,"e":2850.1840,"k":"sweep2"},
{"t":"2","s":2850.1840,"e":2850.1934,"k":"sweep"},
{"t":"2","s":2850.1934,"e":2850.2029,"k":"sweep2"},
{"t":"2","s":2850.2029,"e":2850.2123,"k":"sweep"},
{"t":"2","s":2850.2123,"e":2850.2217,"k":"sweep2"},
{"t":"2","s":2850.2217,"e":2850.2312,"k":"sweep"},
{"t":"2","s":2850.2312,"e":2850.2403,"k":"sweep2"},
{"t":"2","s":2850.2403,"e":2850.2500,"k":"sweep"},
{"t":"2","s":2850.2500,"e":2850.2591,"k":"sweep2"},
{"t":"2","s":2850.2591,"e":2850.2686,"k":"sweep"},
{"t":"2","s":2850.2686,"e":2850.2780,"k":"sweep2"},
{"t":"2","s":2850.2780,"e":2850.2875,"k":"sweep"},
{"t":"2","s":2850.2875,"e":2850.2969,"k":"sweep2"},
{"t":"2","s":2850.2969,"e":2850.3063,"k":"sweep"},
{"t":"2","s":2850.3063,"e":2850.3158,"k":"sweep2"},
{"t":"2","s":2850.3158,"e":2850.3255,"k":"sweep"},
{"t":"2","s":2850.3255,"e":2850.3350,"k":"sweep2"},
{"t":"2","s":2850.3350,"e":2850.3447,"k":"sweep"},
{"t":"2","s":2850.3447,"e":2850.3542,"k":"sweep2"},
{"t":"2","s":2850.3542,"e":2850.3642,"k":"sweep"},
{"t":"2","s":2850.3642,"e":2850.3740,"k":"sweep2"},
{"t":"2","s":2850.3740,"e":2850.3838,"k":"sweep"},
{"t":"2","s":2850.3838,"e":2850.3939,"k":"sweep2"},
{"t":"2","s":2850.3939,"e":2850.4036,"k":"sweep"},
{"t":"2","s":2850.4036,"e":2850.4134,"k":"sweep2"},
{"t":"2","s":2850.4134,"e":2850.4238,"k":"sweep"},
{"t":"2","s":2850.4238,"e":2850.4336,"k":"sweep2"},
{"t":"2","s":2850.4336,"e":2850.4430,"k":"sweep"},
{"t":"2","s":2850.4430,"e":2850.4528,"k":"sweep2"},
{"t":"2","s":2850.4528,"e":2850.4619,"k":"sweep"},
{"t":"2","s":2850.4619,"e":2850.4713,"k":"sweep2"},
{"t":"2","s":2850.4713,"e":2850.4811,"k":"sweep"},
{"t":"2","s":2850.4811,"e":2850.4905,"k":"sweep2"},
{"t":"2","s":2850.4905,"e":2850.5003,"k":"sweep"},
{"t":"2","s":2850.5003,"e":2850.5097,"k":"sweep2"},
{"t":"2","s":2850.5097,"e":2850.5195,"k":"sweep"},
{"t":"2","s":2850.5195,"e":2850.5292,"k":"sweep2"},
{"t":"2","s":2850.5292,"e":2850.5390,"k":"sweep"},
{"t":"2","s":2850.5390,"e":2850.5488,"k":"sweep2"},
{"t":"2","s":2850.5488,"e":2850.5579,"k":"sweep"},
{"t":"2","s":2850.5579,"e":2850.5673,"k":"sweep2"},
{"t":"2","s":2850.5673,"e":2850.5758,"k":"sweep"},
{"t":"2","s":2850.5758,"e":2850.5842,"k":"sweep2"},
{"t":"2","s":2850.5842,"e":2850.5930,"k":"sweep"},
{"t":"2","s":2850.5930,"e":2850.6021,"k":"sweep2"},
{"t":"2","s":2850.6021,"e":2850.6109,"k":"sweep"},
{"t":"2","s":2850.6109,"e":2850.6197,"k":"sweep2"},
{"t":"2","s":2850.6197,"e":2850.6294,"k":"sweep"},
{"t":"2","s":2850.6294,"e":2850.6386,"k":"sweep2"},
{"t":"2","s":2850.6386,"e":2850.6480,"k":"sweep"},
{"t":"2","s":2850.6480,"e":2850.6571,"k":"sweep2"},
{"t":"2","s":2850.6571,"e":2850.6665,"k":"sweep"},
{"t":"2","s":2850.6665,"e":2850.6760,"k":"sweep2"},
{"t":"2","s":2850.6760,"e":2850.6851,"k":"sweep"},
{"t":"2","s":2850.6851,"e":2850.6942,"k":"sweep2"},
{"t":"2","s":2850.6942,"e":2850.7033,"k":"sweep"},
{"t":"2","s":2850.7033,"e":2850.7124,"k":"sweep2"},
{"t":"2","s":2850.7124,"e":2850.7219,"k":"sweep"},
{"t":"2","s":2850.7219,"e":2850.7313,"k":"sweep2"},
{"t":"2","s":2850.7313,"e":2850.7407,"k":"sweep"},
{"t":"2","s":2850.7407,"e":2850.7498,"k":"sweep2"},
{"t":"2","s":2850.7498,"e":2850.7593,"k":"sweep"},
{"t":"2","s":2850.7593,"e":2850.7681,"k":"sweep2"},
{"t":"2","s":2850.7681,"e":2850.7788,"k":"sweep"},
{"t":"2","s":2850.7788,"e":2850.7879,"k":"sweep2"},
{"t":"2","s":2850.7879,"e":2850.7964,"k":"sweep"},
{"t":"2","s":2850.7964,"e":2850.8289,"k":"sweep2"},
{"t":"3","s":2848.4757,"e":2848.4868,"k":"sweep"},
{"t":"3","s":2848.4868,"e":2848.4962,"k":"sweep2"},
{"t":"3","s":2848.4962,"e":2848.5057,"k":"sweep"},
{"t":"3","s":2848.5057,"e":2848.5148,"k":"sweep2"},
{"t":"3","s":2848.5148,"e":2848.5242,"k":"sweep"},
{"t":"3","s":2848.5242,"e":2848.5336,"k":"sweep2"},
{"t":"3","s":2848.5336,"e":2848.5427,"k":"sweep"},
{"t":"3","s":2848.5427,"e":2848.5519,"k":"sweep2"},
{"t":"3","s":2848.5519,"e":2848.5616,"k":"sweep"},
{"t":"3","s":2848.5616,"e":2848.5707,"k":"sweep2"},
{"t":"3","s":2848.5707,"e":2848.5805,"k":"sweep"},
{"t":"3","s":2848.5805,"e":2848.5896,"k":"sweep2"},
{"t":"3","s":2848.5896,"e":2848.5994,"k":"sweep"},
{"t":"3","s":2848.5994,"e":2848.6091,"k":"sweep2"},
{"t":"3","s":2848.6091,"e":2848.6182,"k":"sweep"},
{"t":"3","s":2848.6182,"e":2848.6277,"k":"sweep2"},
{"t":"3","s":2848.6277,"e":2848.6378,"k":"sweep"},
{"t":"3","s":2848.6378,"e":2848.6475,"k":"sweep2"},
{"t":"3","s":2848.6475,"e":2848.6566,"k":"sweep"},
{"t":"3","s":2848.6566,"e":2848.6664,"k":"sweep2"},
{"t":"3","s":2848.6664,"e":2848.6762,"k":"sweep"},
{"t":"3","s":2848.6762,"e":2848.6856,"k":"sweep2"},
{"t":"3","s":2848.6856,"e":2848.6950,"k":"sweep"},
{"t":"3","s":2848.6950,"e":2848.7054,"k":"sweep2"},
{"t":"3","s":2848.7054,"e":2848.7152,"k":"sweep"},
{"t":"3","s":2848.7152,"e":2848.7246,"k":"sweep2"},
{"t":"3","s":2848.7246,"e":2848.7337,"k":"sweep"},
{"t":"3","s":2848.7337,"e":2848.7435,"k":"sweep2"},
{"t":"3","s":2848.7435,"e":2848.7536,"k":"sweep"},
{"t":"3","s":2848.7536,"e":2848.7637,"k":"sweep2"},
{"t":"3","s":2848.7637,"e":2848.7731,"k":"sweep"},
{"t":"3","s":2848.7731,"e":2848.7832,"k":"sweep2"},
{"t":"3","s":2848.7832,"e":2848.7923,"k":"sweep"},
{"t":"3","s":2848.7923,"e":2848.8021,"k":"sweep2"},
{"t":"3","s":2848.8021,"e":2848.8122,"k":"sweep"},
{"t":"3","s":2848.8122,"e":2848.8216,"k":"sweep2"},
{"t":"3","s":2848.8216,"e":2848.8314,"k":"sweep"},
{"t":"3","s":2848.8314,"e":2848.8408,"k":"sweep2"},
{"t":"3","s":2848.8408,"e":2848.8509,"k":"sweep"},
{"t":"3","s":2848.8509,"e":2848.8606,"k":"sweep2"},
{"t":"3","s":2848.8606,"e":2848.8707,"k":"sweep"},
{"t":"3","s":2848.8707,"e":2848.8802,"k":"sweep2"},
{"t":"3","s":2848.8802,"e":2848.8906,"k":"sweep"},
{"t":"3","s":2848.8906,"e":2848.9007,"k":"sweep2"},
{"t":"3","s":2848.9007,"e":2848.9104,"k":"sweep"},
{"t":"3","s":2848.9104,"e":2848.9202,"k":"sweep2"},
{"t":"3","s":2848.9202,"e":2848.9300,"k":"sweep"},
{"t":"3","s":2848.9300,"e":2848.9404,"k":"sweep2"},
{"t":"3","s":2848.9404,"e":2848.9505,"k":"sweep"},
{"t":"3","s":2848.9505,"e":2848.9599,"k":"sweep2"},
{"t":"3","s":2848.9599,"e":2848.9697,"k":"sweep"},
{"t":"3","s":2848.9697,"e":2848.9797,"k":"sweep2"},
{"t":"3","s":2848.9797,"e":2848.9892,"k":"sweep"},
{"t":"3","s":2848.9892,"e":2848.9986,"k":"sweep2"},
{"t":"3","s":2848.9986,"e":2849.0081,"k":"sweep"},
{"t":"3","s":2849.0081,"e":2849.0178,"k":"sweep2"},
{"t":"3","s":2849.0178,"e":2849.0273,"k":"sweep"},
{"t":"3","s":2849.0273,"e":2849.0530,"k":"sweep2"},
{"t":"3","s":2849.0530,"e":2849.0624,"k":"sweep"},
{"t":"3","s":2849.0624,"e":2849.0715,"k":"sweep2"},
{"t":"3","s":2849.0715,"e":2849.0809,"k":"sweep"},
{"t":"3","s":2849.0809,"e":2849.0901,"k":"sweep2"},
{"t":"3","s":2849.0901,"e":2849.0998,"k":"sweep"},
{"t":"3","s":2849.0998,"e":2849.1089,"k":"sweep2"},
{"t":"3","s":2849.1089,"e":2849.1187,"k":"sweep"},
{"t":"3","s":2849.1187,"e":2849.1278,"k":"sweep2"},
{"t":"3","s":2849.1278,"e":2849.1369,"k":"sweep"},
{"t":"3","s":2849.1369,"e":2849.1467,"k":"sweep2"},
{"t":"3","s":2849.1467,"e":2849.1564,"k":"sweep"},
{"t":"3","s":2849.1564,"e":2849.1662,"k":"sweep2"},
{"t":"3","s":2849.1662,"e":2849.1760,"k":"sweep"},
{"t":"3","s":2849.1760,"e":2849.1857,"k":"sweep2"},
{"t":"3","s":2849.1857,"e":2849.1955,"k":"sweep"},
{"t":"3","s":2849.1955,"e":2849.2049,"k":"sweep2"},
{"t":"3","s":2849.2049,"e":2849.2147,"k":"sweep"},
{"t":"3","s":2849.2147,"e":2849.2248,"k":"sweep2"},
{"t":"3","s":2849.2248,"e":2849.2339,"k":"sweep"},
{"t":"3","s":2849.2339,"e":2849.2433,"k":"sweep2"},
{"t":"3","s":2849.2433,"e":2849.2534,"k":"sweep"},
{"t":"3","s":2849.2534,"e":2849.2638,"k":"sweep2"},
{"t":"3","s":2849.2638,"e":2849.2736,"k":"sweep"},
{"t":"3","s":2849.2736,"e":2849.2833,"k":"sweep2"},
{"t":"3","s":2849.2833,"e":2849.2924,"k":"sweep"},
{"t":"3","s":2849.2924,"e":2849.3019,"k":"sweep2"},
{"t":"3","s":2849.3019,"e":2849.3116,"k":"sweep"},
{"t":"3","s":2849.3116,"e":2849.3214,"k":"sweep2"},
{"t":"3","s":2849.3214,"e":2849.3315,"k":"sweep"},
{"t":"3","s":2849.3315,"e":2849.3409,"k":"sweep2"},
{"t":"3","s":2849.3409,"e":2849.3510,"k":"sweep"},
{"t":"3","s":2849.3510,"e":2849.3608,"k":"sweep2"},
{"t":"3","s":2849.3608,"e":2849.3709,"k":"sweep"},
{"t":"3","s":2849.3709,"e":2849.3803,"k":"sweep2"},
{"t":"3","s":2849.3803,"e":2849.3901,"k":"sweep"},
{"t":"3","s":2849.3901,"e":2849.4001,"k":"sweep2"},
{"t":"3","s":2849.4001,"e":2849.4099,"k":"sweep"},
{"t":"3","s":2849.4099,"e":2849.4200,"k":"sweep2"},
{"t":"3","s":2849.4200,"e":2849.4301,"k":"sweep"},
{"t":"3","s":2849.4301,"e":2849.4398,"k":"sweep2"},
{"t":"3","s":2849.4398,"e":2849.4493,"k":"sweep"},
{"t":"3","s":2849.4493,"e":2849.4587,"k":"sweep2"},
{"t":"3","s":2849.4587,"e":2849.4685,"k":"sweep"},
{"t":"3","s":2849.4685,"e":2849.4786,"k":"sweep2"},
{"t":"3","s":2849.4786,"e":2849.4883,"k":"sweep"},
{"t":"3","s":2849.4883,"e":2849.4978,"k":"sweep2"},
{"t":"3","s":2849.4978,"e":2849.5072,"k":"sweep"},
{"t":"3","s":2849.5072,"e":2849.5170,"k":"sweep2"},
{"t":"3","s":2849.5170,"e":2849.5264,"k":"sweep"},
{"t":"3","s":2849.5264,"e":2849.5355,"k":"sweep2"},
{"t":"3","s":2849.5355,"e":2849.5449,"k":"sweep"},
{"t":"3","s":2849.5449,"e":2849.5547,"k":"sweep2"},
{"t":"3","s":2849.5547,"e":2849.5641,"k":"sweep"},
{"t":"3","s":2849.5641,"e":2849.5736,"k":"sweep2"},
{"t":"3","s":2849.5736,"e":2849.5830,"k":"sweep"},
{"t":"3","s":2849.5830,"e":2849.5928,"k":"sweep2"},
{"t":"3","s":2849.5928,"e":2849.6025,"k":"sweep"},
{"t":"3","s":2849.6025,"e":2849.6123,"k":"sweep2"},
{"t":"3","s":2849.6123,"e":2849.6217,"k":"sweep"},
{"t":"3","s":2849.6217,"e":2849.6312,"k":"sweep2"},
{"t":"3","s":2849.6312,"e":2849.6409,"k":"sweep"},
{"t":"3","s":2849.6409,"e":2849.6504,"k":"sweep2"},
{"t":"3","s":2849.6504,"e":2849.6601,"k":"sweep"},
{"t":"3","s":2849.6601,"e":2849.6696,"k":"sweep2"},
{"t":"3","s":2849.6696,"e":2849.6793,"k":"sweep"},
{"t":"3","s":2849.6793,"e":2849.6891,"k":"sweep2"},
{"t":"3","s":2849.6891,"e":2849.6985,"k":"sweep"},
{"t":"3","s":2849.6985,"e":2849.7080,"k":"sweep2"},
{"t":"3","s":2849.7080,"e":2849.7177,"k":"sweep"},
{"t":"3","s":2849.7177,"e":2849.7275,"k":"sweep2"},
{"t":"3","s":2849.7275,"e":2849.7369,"k":"sweep"},
{"t":"3","s":2849.7369,"e":2849.7470,"k":"sweep2"},
{"t":"3","s":2849.7470,"e":2849.7571,"k":"sweep"},
{"t":"3","s":2849.7571,"e":2849.7665,"k":"sweep2"},
{"t":"3","s":2849.7665,"e":2849.7763,"k":"sweep"},
{"t":"3","s":2849.7763,"e":2849.7860,"k":"sweep2"},
{"t":"3","s":2849.7860,"e":2849.7958,"k":"sweep"},
{"t":"3","s":2849.7958,"e":2849.8056,"k":"sweep2"},
{"t":"3","s":2849.8056,"e":2849.8153,"k":"sweep"},
{"t":"3","s":2849.8153,"e":2849.8248,"k":"sweep2"},
{"t":"3","s":2849.8248,"e":2849.8348,"k":"sweep"},
{"t":"3","s":2849.8348,"e":2849.8443,"k":"sweep2"},
{"t":"3","s":2849.8443,"e":2849.8537,"k":"sweep"},
{"t":"3","s":2849.8537,"e":2849.8632,"k":"sweep2"},
{"t":"3","s":2849.8632,"e":2849.8726,"k":"sweep"},
{"t":"3","s":2849.8726,"e":2849.8820,"k":"sweep2"},
{"t":"3","s":2849.8820,"e":2849.8915,"k":"sweep"},
{"t":"3","s":2849.8915,"e":2849.9009,"k":"sweep2"},
{"t":"3","s":2849.9009,"e":2849.9107,"k":"sweep"},
{"t":"3","s":2849.9107,"e":2849.9211,"k":"sweep2"},
{"t":"3","s":2849.9211,"e":2849.9312,"k":"sweep"},
{"t":"3","s":2849.9312,"e":2849.9406,"k":"sweep2"},
{"t":"3","s":2849.9406,"e":2849.9507,"k":"sweep"},
{"t":"3","s":2849.9507,"e":2849.9608,"k":"sweep2"},
{"t":"3","s":2849.9608,"e":2849.9705,"k":"sweep"},
{"t":"3","s":2849.9705,"e":2849.9800,"k":"sweep2"},
{"t":"3","s":2849.9800,"e":2849.9897,"k":"sweep"},
{"t":"3","s":2849.9897,"e":2850.0001,"k":"sweep2"},
{"t":"3","s":2850.0001,"e":2850.0093,"k":"sweep"},
{"t":"3","s":2850.0093,"e":2850.0184,"k":"sweep2"},
{"t":"3","s":2850.0184,"e":2850.0291,"k":"sweep"},
{"t":"3","s":2850.0291,"e":2850.0382,"k":"sweep2"},
{"t":"3","s":2850.0382,"e":2850.0477,"k":"sweep"},
{"t":"3","s":2850.0477,"e":2850.0564,"k":"sweep2"},
{"t":"3","s":2850.0564,"e":2850.0662,"k":"sweep"},
{"t":"3","s":2850.0662,"e":2850.0756,"k":"sweep2"},
{"t":"3","s":2850.0756,"e":2850.0854,"k":"sweep"},
{"t":"3","s":2850.0854,"e":2850.0945,"k":"sweep2"},
{"t":"3","s":2850.0945,"e":2850.1043,"k":"sweep"},
{"t":"3","s":2850.1043,"e":2850.1144,"k":"sweep2"},
{"t":"3","s":2850.1144,"e":2850.1241,"k":"sweep"},
{"t":"3","s":2850.1241,"e":2850.1339,"k":"sweep2"},
{"t":"3","s":2850.1339,"e":2850.1440,"k":"sweep"},
{"t":"3","s":2850.1440,"e":2850.1534,"k":"sweep2"},
{"t":"3","s":2850.1534,"e":2850.1645,"k":"sweep"},
{"t":"3","s":2850.1645,"e":2850.1739,"k":"sweep2"},
{"t":"3","s":2850.1739,"e":2850.1840,"k":"sweep"},
{"t":"3","s":2850.1840,"e":2850.1931,"k":"sweep2"},
{"t":"3","s":2850.1931,"e":2850.2029,"k":"sweep"},
{"t":"3","s":2850.2029,"e":2850.2133,"k":"sweep2"},
{"t":"3","s":2850.2133,"e":2850.2230,"k":"sweep"},
{"t":"3","s":2850.2230,"e":2850.2321,"k":"sweep2"},
{"t":"3","s":2850.2321,"e":2850.2422,"k":"sweep"},
{"t":"3","s":2850.2422,"e":2850.2523,"k":"sweep2"},
{"t":"3","s":2850.2523,"e":2850.2627,"k":"sweep"},
{"t":"3","s":2850.2627,"e":2850.2718,"k":"sweep2"},
{"t":"3","s":2850.2718,"e":2850.2819,"k":"sweep"},
{"t":"3","s":2850.2819,"e":2850.2920,"k":"sweep2"},
{"t":"3","s":2850.2920,"e":2850.3018,"k":"sweep"},
{"t":"3","s":2850.3018,"e":2850.3115,"k":"sweep2"},
{"t":"3","s":2850.3115,"e":2850.3213,"k":"sweep"},
{"t":"3","s":2850.3213,"e":2850.3311,"k":"sweep2"},
{"t":"3","s":2850.3311,"e":2850.3408,"k":"sweep"},
{"t":"3","s":2850.3408,"e":2850.3503,"k":"sweep2"},
{"t":"3","s":2850.3503,"e":2850.3600,"k":"sweep"},
{"t":"3","s":2850.3600,"e":2850.3695,"k":"sweep2"},
{"t":"3","s":2850.3695,"e":2850.3795,"k":"sweep"},
{"t":"3","s":2850.3795,"e":2850.3890,"k":"sweep2"},
{"t":"3","s":2850.3890,"e":2850.3984,"k":"sweep"},
{"t":"3","s":2850.3984,"e":2850.4078,"k":"sweep2"},
{"t":"3","s":2850.4078,"e":2850.4183,"k":"sweep"},
{"t":"3","s":2850.4183,"e":2850.4280,"k":"sweep2"},
{"t":"3","s":2850.4280,"e":2850.4381,"k":"sweep"},
{"t":"3","s":2850.4381,"e":2850.4472,"k":"sweep2"},
{"t":"3","s":2850.4472,"e":2850.4580,"k":"sweep"},
{"t":"3","s":2850.4580,"e":2850.4671,"k":"sweep2"},
{"t":"3","s":2850.4671,"e":2850.4772,"k":"sweep"},
{"t":"3","s":2850.4772,"e":2850.4869,"k":"sweep2"},
{"t":"3","s":2850.4869,"e":2850.4957,"k":"sweep"},
{"t":"3","s":2850.4957,"e":2850.5052,"k":"sweep2"},
{"t":"3","s":2850.5052,"e":2850.5146,"k":"sweep"},
{"t":"3","s":2850.5146,"e":2850.5247,"k":"sweep2"},
{"t":"3","s":2850.5247,"e":2850.5348,"k":"sweep"},
{"t":"3","s":2850.5348,"e":2850.5442,"k":"sweep2"},
{"t":"3","s":2850.5442,"e":2850.5543,"k":"sweep"},
{"t":"3","s":2850.5543,"e":2850.5634,"k":"sweep2"},
{"t":"3","s":2850.5634,"e":2850.5738,"k":"sweep"},
{"t":"3","s":2850.5738,"e":2850.5829,"k":"sweep2"},
{"t":"3","s":2850.5829,"e":2850.5927,"k":"sweep"},
{"t":"3","s":2850.5927,"e":2850.6018,"k":"sweep2"},
{"t":"3","s":2850.6018,"e":2850.6116,"k":"sweep"},
{"t":"3","s":2850.6116,"e":2850.6207,"k":"sweep2"},
{"t":"3","s":2850.6207,"e":2850.6298,"k":"sweep"},
{"t":"3","s":2850.6298,"e":2850.6376,"k":"sweep2"},
{"t":"3","s":2850.6376,"e":2850.6467,"k":"sweep"},
{"t":"3","s":2850.6467,"e":2850.6558,"k":"sweep2"},
{"t":"3","s":2850.6558,"e":2850.6649,"k":"sweep"},
{"t":"3","s":2850.6649,"e":2850.6734,"k":"sweep2"},
{"t":"3","s":2850.6734,"e":2850.6825,"k":"sweep"},
{"t":"3","s":2850.6825,"e":2850.6916,"k":"sweep2"},
{"t":"3","s":2850.6916,"e":2850.7017,"k":"sweep"},
{"t":"3","s":2850.7017,"e":2850.7108,"k":"sweep2"},
{"t":"3","s":2850.7108,"e":2850.7202,"k":"sweep"},
{"t":"3","s":2850.7202,"e":2850.7290,"k":"sweep2"},
{"t":"3","s":2850.7290,"e":2850.7384,"k":"sweep"},
{"t":"3","s":2850.7384,"e":2850.7472,"k":"sweep2"},
{"t":"3","s":2850.7472,"e":2850.7567,"k":"sweep"},
{"t":"3","s":2850.7567,"e":2850.7664,"k":"sweep2"},
{"t":"3","s":2850.7664,"e":2850.7762,"k":"sweep"},
{"t":"3","s":2850.7762,"e":2850.7847,"k":"sweep2"},
{"t":"3","s":2850.7847,"e":2850.7934,"k":"sweep"},
{"t":"3","s":2850.7934,"e":2850.8019,"k":"sweep2"},
{"t":"0","s":2848.6248,"e":2848.6254,"k":"coalesce"},
{"t":"0","s":2848.7406,"e":2848.7412,"k":"coalesce"},
{"t":"0","s":2848.8031,"e":2848.8037,"k":"coalesce"},
{"t":"0","s":2848.8965,"e":2848.8971,"k":"coalesce"},
{"t":"0","s":2848.9788,"e":2848.9794,"k":"coalesce"},
{"t":"0","s":2849.0969,"e":2849.0975,"k":"coalesce"},
{"t":"0","s":2849.2101,"e":2849.2107,"k":"coalesce"},
{"t":"0","s":2849.3149,"e":2849.3155,"k":"coalesce"},
{"t":"0","s":2849.3562,"e":2849.3568,"k":"coalesce"},
{"t":"0","s":2849.3979,"e":2849.3985,"k":"coalesce"},
{"t":"0","s":2849.4708,"e":2849.4714,"k":"coalesce"},
{"t":"0","s":2849.5433,"e":2849.5439,"k":"coalesce"},
{"t":"0","s":2849.6055,"e":2849.6061,"k":"coalesce"},
{"t":"0","s":2849.6985,"e":2849.6991,"k":"coalesce"},
{"t":"0","s":2849.7714,"e":2849.7720,"k":"coalesce"},
{"t":"0","s":2849.8651,"e":2849.8657,"k":"coalesce"},
{"t":"0","s":2850.0096,"e":2850.0102,"k":"coalesce"},
{"t":"0","s":2850.1105,"e":2850.1111,"k":"coalesce"},
{"t":"0","s":2850.1515,"e":2850.1521,"k":"coalesce"},
{"t":"0","s":2850.2549,"e":2850.2555,"k":"coalesce"},
{"t":"0","s":2850.2966,"e":2850.2972,"k":"coalesce"},
{"t":"0","s":2850.3897,"e":2850.3903,"k":"coalesce"},
{"t":"0","s":2850.5348,"e":2850.5354,"k":"coalesce"},
{"t":"0","s":2850.5845,"e":2850.5855,"k":"coalesce2"},
{"t":"0","s":2850.6734,"e":2850.6740,"k":"coalesce"},
{"t":"0","s":2850.7745,"e":2850.7755,"k":"coalesce2"},
{"t":"0","s":2850.8208,"e":2850.8216,"k":"coalesce"},
{"t":"0","s":2850.8289,"e":2850.8296,"k":"coalesce"}
]},
"mark":{"type":"bar","stroke":"white"},
"encoding":{
"x":{"field":"s","type":"quantitative","scale":{"domain":[2848.034,2850.96],"nice":false,"zero":false},
"axis":{"values":[2848.5,2849,2849.5,2850,2850.5],"format":".1f","title":"Time since start (ms)","grid":false,"domain":false,"tickColor":"black","tickSize":2.5,"tickWidth":0.6,"labelFontSize":14,"labelColor":"black","labelFont":"DejaVu Sans","labelPadding":3,"titleFontSize":14,"titleFontWeight":"normal","titleColor":"black","titleFont":"DejaVu Sans","titlePadding":3}},
"x2":{"field":"e"},
"y":{"field":"t","type":"nominal","scale":{"domain":["3","2","1","0","mutator-1"],"paddingInner":0.5,"paddingOuter":0.2265},
"axis":{"title":null,"bandPosition":1,"grid":false,"domain":false,"tickColor":"black","tickSize":2.5,"tickWidth":0.6,"labelFontSize":14,"labelColor":"black","labelFont":"DejaVu Sans","labelPadding":3}},
"color":{"field":"k","type":"nominal",
"scale":{"domain":["collection","mark","sweep","coalesce","mark waiting","sync","mark2","sweep2","coalesce2"],"range":["#000000","#ff0000","#0000ff","#008000","#808080","#ffff00","#8b0000","#00008b","#006400"]},
"legend":{"values":["collection","mark","sweep","coalesce","mark waiting","sync"],"title":null,"orient":"none","legendX":3860,"legendY":8,"direction":"vertical","symbolType":"M-1,-0.4H1V0.4H-1Z","symbolSize":841,"symbolStrokeWidth":0,"symbolOpacity":1,"labelFontSize":14,"labelFont":"DejaVu Sans","labelColor":"black","labelOffset":12,"padding":5,"rowPadding":5.6,"clipHeight":16,"strokeColor":"#cccccc","fillColor":"white","cornerRadius":4}},
"strokeWidth":{"condition":{"test":"datum.e - datum.s < 0.0012","value":0},"value":0.5}
}
}
